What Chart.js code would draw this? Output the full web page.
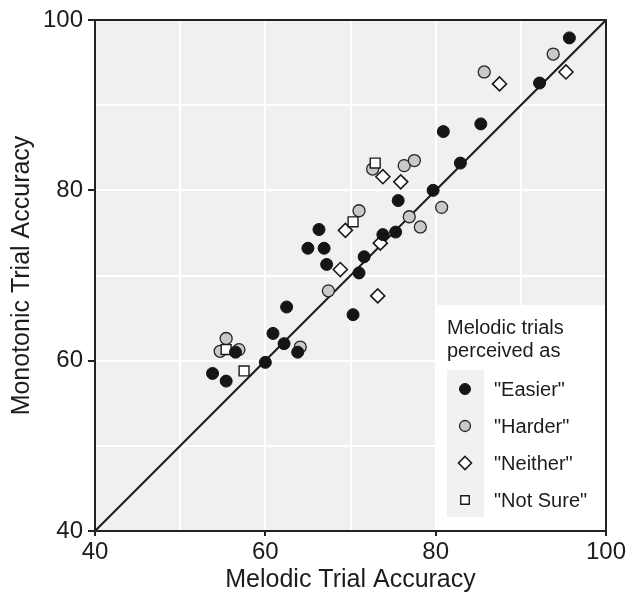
<!DOCTYPE html>
<html>
<head>
<meta charset="utf-8">
<title>Melodic vs Monotonic Trial Accuracy</title>
<script src="https://cdn.jsdelivr.net/npm/chart.js@4.4.1/dist/chart.umd.min.js"></script>
<style>
  html, body { margin: 0; padding: 0; background: #fff; }
  canvas { display: block; }
</style>
</head>
<body>
<canvas id="chart" width="639" height="593"></canvas>
<script>
// values (melodic = x, monotonic = y)
const easierX = [62.5, 60.9, 62.2, 63.8, 60.0, 56.5, 53.8, 55.4, 80.9, 82.9, 79.7, 75.6,
  66.3, 65.0, 66.9, 67.2, 73.8, 75.3, 71.6, 71.0, 70.3, 95.7, 92.2, 85.3];
const easierY = [66.3, 63.2, 62.0, 61.0, 59.8, 61.0, 58.5, 57.6, 86.9, 83.2, 80.0, 78.8,
  75.4, 73.2, 73.2, 71.3, 74.8, 75.1, 72.2, 70.3, 65.4, 97.9, 92.6, 87.8];

const harderX = [64.1, 55.4, 54.7, 56.9, 67.4, 72.6, 76.3, 77.5, 80.7, 71.0, 76.9, 78.2, 93.8, 85.7];
const harderY = [61.6, 62.6, 61.1, 61.3, 68.2, 82.5, 82.9, 83.5, 78.0, 77.6, 76.9, 75.7, 96.0, 93.9];

const neitherX = [73.8, 75.9, 69.4, 68.8, 73.5, 73.2, 95.3, 87.5];
const neitherY = [81.6, 81.0, 75.3, 70.7, 73.8, 67.6, 93.9, 92.5];

const notSureX = [55.4, 57.5, 72.9, 70.3];
const notSureY = [61.3, 58.8, 83.2, 76.3];

const identityLine = [40, 100];
const axisMin = 40;
const axisMax = 100;
const labelStep = 20;

const groupLabels = ['"Easier"', '"Harder"', '"Neither"', '"Not Sure"'];
const legendTitle = ["Melodic trials", "perceived as"];

const FONT = "'Liberation Sans', Arial, Helvetica, sans-serif";
const INK = "#1c1c1c";

function toPoints(xs, ys) {
  return xs.map((x, i) => ({ x: x, y: ys[i] }));
}

function drawMarker(ctx, style, x, y, r, fill, stroke, lw) {
  ctx.save();
  ctx.fillStyle = fill;
  ctx.strokeStyle = stroke;
  ctx.lineWidth = lw;
  ctx.beginPath();
  if (style === "circle") {
    ctx.arc(x, y, r, 0, Math.PI * 2);
  } else if (style === "rectRot") {
    ctx.moveTo(x, y - r);
    ctx.lineTo(x + r, y);
    ctx.lineTo(x, y + r);
    ctx.lineTo(x - r, y);
    ctx.closePath();
  } else {
    const h = r * Math.SQRT1_2;
    ctx.rect(x - h, y - h, h * 2, h * 2);
  }
  ctx.fill();
  if (lw > 0) ctx.stroke();
  ctx.restore();
}

const plotDecor = {
  id: "plotDecor",
  beforeDraw(chart) {
    const { ctx, chartArea: a } = chart;
    ctx.save();
    ctx.fillStyle = "#eff0f2";
    ctx.fillRect(a.left, a.top, a.right - a.left, a.bottom - a.top);
    ctx.restore();
  },
  afterDatasetsDraw(chart) {
    const { ctx, chartArea: a } = chart;

    // legend panel sitting inside the lower right corner
    const boxLeft = 435, boxTop = 305;
    ctx.save();
    ctx.fillStyle = "#ffffff";
    ctx.fillRect(boxLeft, boxTop, a.right - boxLeft, a.bottom - boxTop);
    ctx.fillStyle = "#f1f1f2";
    ctx.fillRect(447, 370, 37, 147);

    ctx.fillStyle = INK;
    ctx.font = "20px " + FONT;
    ctx.textBaseline = "alphabetic";
    ctx.textAlign = "left";
    legendTitle.forEach((t, i) => ctx.fillText(t, 447, 334 + i * 23));

    const sets = chart.data.datasets.filter(d => d.type !== "line");
    sets.forEach((d, i) => {
      const y = 389 + i * 37;
      const r = d.pointStyle === "circle" ? 5.5 : (d.pointStyle === "rectRot" ? 6.5 : 6);
      drawMarker(ctx, d.pointStyle, 465, y, r, d.backgroundColor, d.borderColor, d.borderWidth);
      ctx.fillStyle = INK;
      ctx.textBaseline = "middle";
      ctx.fillText(d.label, 494, y + 1);
    });
    ctx.restore();
  },
  afterDraw(chart) {
    const { ctx, chartArea: a } = chart;
    ctx.save();
    ctx.strokeStyle = "#222";
    ctx.lineWidth = 2;
    ctx.strokeRect(a.left, a.top, a.right - a.left, a.bottom - a.top);
    ctx.restore();
  }
};

function axisOptions(title, isX) {
  return {
    type: "linear",
    min: axisMin,
    max: axisMax,
    ticks: {
      stepSize: 10,
      autoSkip: false,
      maxRotation: 0,
      color: INK,
      font: { family: FONT, size: 24 },
      padding: isX ? 2 : 5,
      callback: v => (v % labelStep === 0 ? String(v) : "")
    },
    grid: {
      color: c => (c.tick && (c.tick.value === axisMin || c.tick.value === axisMax)) ? "rgba(0,0,0,0)" : "#ffffff",
      lineWidth: 2,
      tickLength: isX ? 5 : 7,
      tickWidth: 2,
      tickColor: c => (c.tick && c.tick.value % labelStep === 0) ? "#222" : "rgba(0,0,0,0)"
    },
    border: { color: "#222", width: 2 },
    title: {
      display: true,
      text: title,
      color: INK,
      font: { family: FONT, size: 25, lineHeight: 1 },
      padding: isX ? { top: 0, bottom: 0 } : { top: 10, bottom: 0 }
    },
    afterFit: s => {
      if (isX) s.height = 62; else s.width = 95;
    }
  };
}

new Chart(document.getElementById("chart"), {
  type: "scatter",
  data: {
    datasets: [
      {
        type: "line",
        label: "identity",
        data: toPoints(identityLine, identityLine),
        borderColor: INK,
        borderWidth: 2,
        pointRadius: 0,
        order: 10
      },
      {
        label: groupLabels[0],
        data: toPoints(easierX, easierY),
        pointStyle: "circle",
        pointRadius: 6,
        backgroundColor: "#151515",
        borderColor: "#151515",
        borderWidth: 1,
        order: 1
      },
      {
        label: groupLabels[1],
        data: toPoints(harderX, harderY),
        pointStyle: "circle",
        pointRadius: 6,
        backgroundColor: "#c8c9cb",
        borderColor: "#262626",
        borderWidth: 1.3,
        order: 4
      },
      {
        label: groupLabels[2],
        data: toPoints(neitherX, neitherY),
        pointStyle: "rectRot",
        pointRadius: 7,
        backgroundColor: "#ffffff",
        borderColor: "#1a1a1a",
        borderWidth: 1.6,
        order: 3
      },
      {
        label: groupLabels[3],
        data: toPoints(notSureX, notSureY),
        pointStyle: "rect",
        pointRadius: 7,
        backgroundColor: "#ffffff",
        borderColor: "#1a1a1a",
        borderWidth: 1.4,
        order: 2
      }
    ]
  },
  options: {
    responsive: false,
    animation: false,
    devicePixelRatio: 1,
    layout: { padding: { left: 0, right: 33, top: 20, bottom: 0 } },
    plugins: {
      legend: { display: false },
      tooltip: { enabled: false }
    },
    scales: {
      x: axisOptions("Melodic Trial Accuracy", true),
      y: axisOptions("Monotonic Trial Accuracy", false)
    }
  },
  plugins: [plotDecor]
});
</script>
</body>
</html>
